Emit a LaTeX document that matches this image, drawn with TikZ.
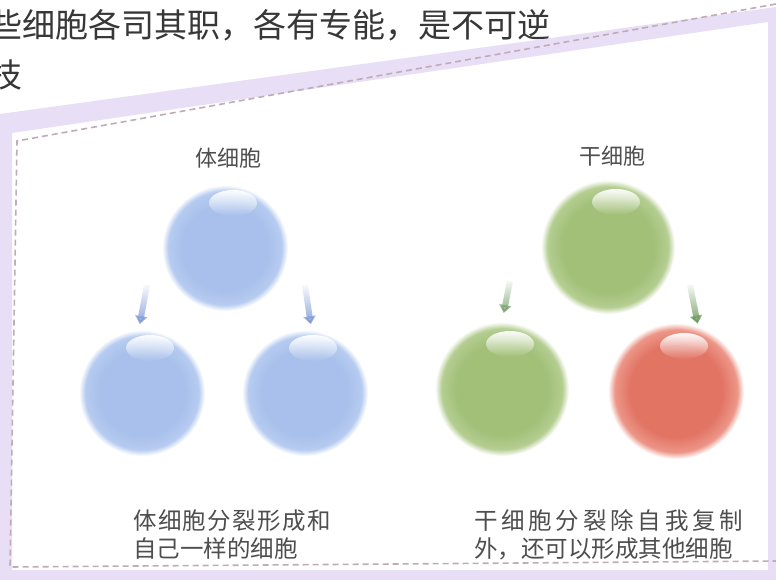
\documentclass[tikz,border=0pt]{standalone}
\usepackage{fontspec}
\setmainfont{Noto Sans CJK SC}
\usepackage{tikz}
\usetikzlibrary{arrows.meta, fadings}

\definecolor{lavender}{RGB}{232,222,246}
\definecolor{frameDash}{RGB}{192,172,184}
\definecolor{inkGray}{RGB}{78,78,78}
\definecolor{pageInk}{RGB}{55,55,55}
\definecolor{blueCore}{RGB}{168,192,235}
\definecolor{blueRim}{RGB}{182,203,240}
\definecolor{greenCore}{RGB}{162,192,120}
\definecolor{greenRim}{RGB}{180,205,145}
\definecolor{redCore}{RGB}{226,116,100}
\definecolor{redRim}{RGB}{236,150,136}
\definecolor{blueArrow}{RGB}{118,148,214}
\definecolor{greenArrow}{RGB}{105,148,88}

% soft-edged cell shading: flat core, lighter rim, fading out to white
\newcommand{\cellshading}[3]{%
  \pgfdeclareradialshading{#1}{\pgfpoint{0bp}{0bp}}{%
    color(0bp)=(#2); color(17bp)=(#2); color(22.5bp)=(#3);
    color(25bp)=(white); color(50bp)=(white)}}
\cellshading{blueCell}{blueCore}{blueRim}
\cellshading{greenCell}{greenCore}{greenRim}
\cellshading{redCell}{redCore}{redRim}

\tikzfading[name=glossFade, top color=transparent!5, bottom color=transparent!100]
\tikzfading[name=tailFade, top color=transparent!100, bottom color=transparent!0]

\begin{document}
\begin{tikzpicture}[
  x=1pt, y=-1pt,
  cell/.style={circle, inner sep=0pt, draw=none},
  headline/.style={font=\fontsize{33}{40}\selectfont, text=pageInk, inner sep=0pt},
  groupname/.style={font=\fontsize{22}{26}\selectfont, text=inkGray, inner sep=0pt},
  note/.style={font=\fontsize{23.5}{28}\selectfont, text=inkGray, align=left, inner sep=0pt},
  cellarrow/.style={line width=6pt, -{Triangle[width=12pt,length=8pt]},
                    path fading=tailFade, shorten >=6pt},
  frameline/.style={draw=frameDash, line width=1.6pt, dash pattern=on 6pt off 4pt},
]
  \useasboundingbox (0,0) rectangle (776,580);
  \fill[white] (0,0) rectangle (776,580);

  % page text running above the card
  \node[headline, anchor=west] (line1) at (-11,25) {些细胞各司其职，各有专能，是不可逆};
  \node[headline, anchor=west] (line2) at (-11,75) {技};

  % lavender band round the card, then its dashed edge
  \fill[lavender, even odd rule]
    (0,114) -- (776,7) -- (776,580) -- (0,580) -- cycle
    (12,133) -- (768,22) -- (768,570) -- (12,570) -- cycle;
  \draw[frameline] (776,4) -- (17,141) -- (10,567) -- (776,561);

  % somatic cells
  \node[groupname] (bodyTitle) at (228,158) {体细胞};
  \node[cell, shading=blueCell, minimum size=126pt] (b0) at (225,248) {};
  \node[cell, shading=blueCell, minimum size=126pt] (b1) at (142,393) {};
  \node[cell, shading=blueCell, minimum size=126pt] (b2) at (305,393) {};

  % stem cells
  \node[groupname] (stemTitle) at (612,156) {干细胞};
  \node[cell, shading=greenCell, minimum size=134pt] (g0) at (608,247) {};
  \node[cell, shading=greenCell, minimum size=134pt] (g1) at (502,389) {};
  \node[cell, shading=redCell, minimum size=136pt] (r1) at (676,391) {};

  % gloss on top of every cell
  \foreach \c in {b0,b1,b2,g0,g1,r1}
    \fill[white, path fading=glossFade]
      ([xshift=8pt, yshift=45pt]\c.center) ellipse [x radius=24pt, y radius=13pt];

  % division arrows
  \coordinate (b1tail) at ([xshift=-78pt, yshift=-37pt]b0.center);
  \coordinate (b2tail) at ([xshift=80pt, yshift=-37pt]b0.center);
  \coordinate (g1tail) at ([xshift=-98pt, yshift=-34pt]g0.center);
  \coordinate (r1tail) at ([xshift=82pt, yshift=-38pt]g0.center);
  \draw[cellarrow, blueArrow] (b1tail) -- (b1.93);
  \draw[cellarrow, blueArrow] (b2tail) -- (b2.84);
  \draw[cellarrow, greenArrow, shorten >=9pt] (g1tail) -- (g1.north);
  \draw[cellarrow, greenArrow, shorten >=3pt] (r1tail) -- (r1.71);

  % captions under each group
  \node[note, anchor=west] (bodyNote) at (133,535)
    {{\addfontfeature{LetterSpace=6}体细胞分裂形成和}\\自己一样的细胞};
  \node[note, anchor=west] (stemNote) at (474,535)
    {{\addfontfeature{LetterSpace=16}干细胞分裂除自我复制}\\外，还可以形成其他细胞};
\end{tikzpicture}
\end{document}
